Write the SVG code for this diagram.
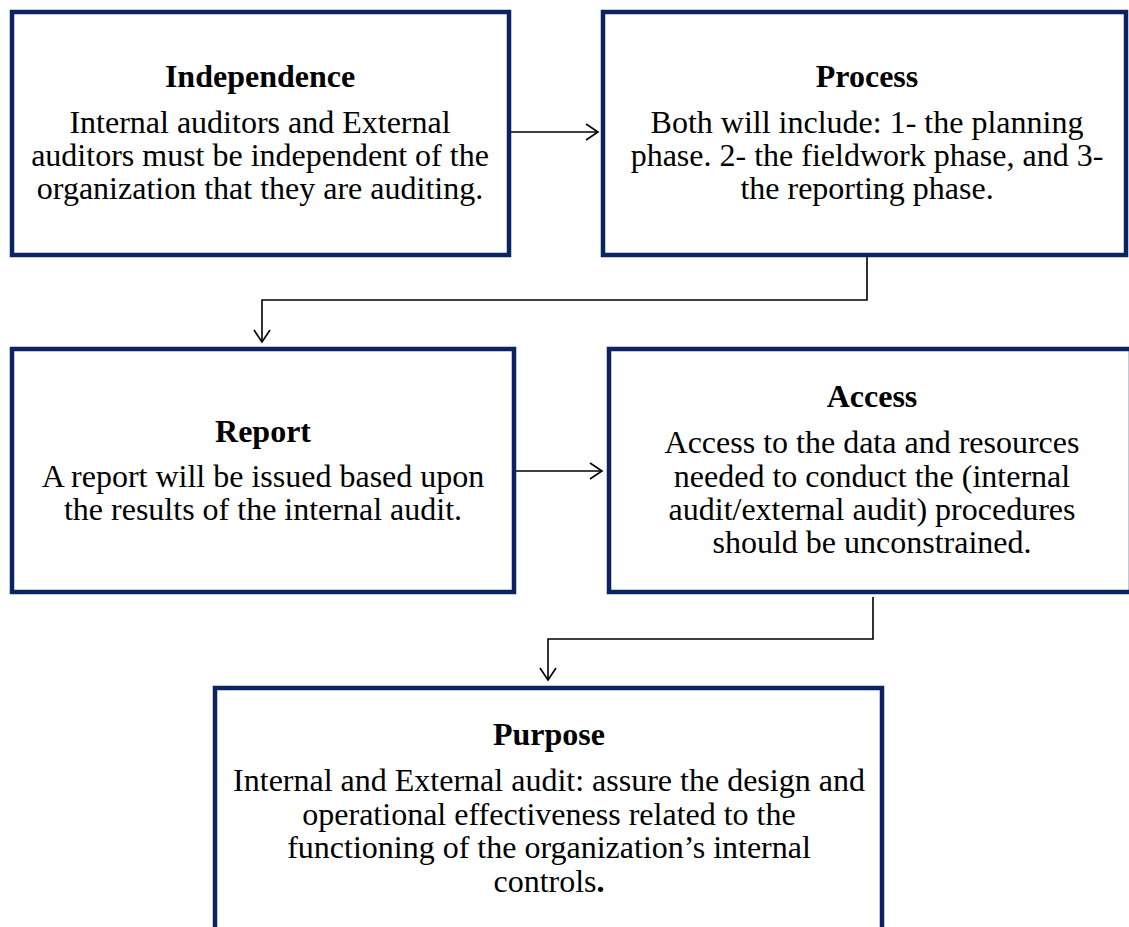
<svg xmlns="http://www.w3.org/2000/svg" width="1129" height="927" viewBox="0 0 1129 927">
  <style>
    .box { fill: #ffffff; stroke: #0b2461; stroke-width: 4.5; }
    .title { font-family: "Liberation Serif", "Times New Roman", serif; font-size: 32px; font-weight: bold; fill: #000; text-anchor: middle; }
    .body { font-family: "Liberation Serif", "Times New Roman", serif; font-size: 32px; fill: #000; text-anchor: middle; }
    .link { fill: none; stroke: #000; stroke-width: 1.6; marker-end: url(#open); }
  </style>
  <defs>
    <marker id="open" markerUnits="userSpaceOnUse" markerWidth="16" markerHeight="20" refX="13" refY="9" orient="auto">
      <path d="M1,1 L13,9 L1,17" fill="none" stroke="#000" stroke-width="1.6"/>
    </marker>
  </defs>

  <rect width="1129" height="927" fill="#ffffff"/>

  <g id="connectors">
    <path class="link" d="M511,132 L598,132"/>
    <path class="link" d="M867,257 L867,300 L262,300 L262,342"/>
    <path class="link" d="M516,471 L602,471"/>
    <path class="link" d="M873,597 L873,639 L548,639 L548,680"/>
  </g>

  <g id="independence">
    <rect class="box" x="12" y="12" width="497" height="243"/>
    <text class="title" x="260" y="87">Independence</text>
    <text class="body" x="260" y="133">Internal auditors and External</text>
    <text class="body" x="260" y="166">auditors must be independent of the</text>
    <text class="body" x="260" y="199">organization that they are auditing.</text>
  </g>

  <g id="process">
    <rect class="box" x="603" y="12" width="523" height="243"/>
    <text class="title" x="867" y="87">Process</text>
    <text class="body" x="867" y="133">Both will include: 1- the planning</text>
    <text class="body" x="867" y="166">phase. 2- the fieldwork phase, and 3-</text>
    <text class="body" x="867" y="199">the reporting phase.</text>
  </g>

  <g id="report">
    <rect class="box" x="12" y="349" width="502" height="243"/>
    <text class="title" x="263" y="442">Report</text>
    <text class="body" x="263" y="487">A report will be issued based upon</text>
    <text class="body" x="263" y="520">the results of the internal audit.</text>
  </g>

  <g id="access">
    <rect class="box" x="609" y="349" width="522" height="243"/>
    <text class="title" x="872" y="407">Access</text>
    <text class="body" x="872" y="453">Access to the data and resources</text>
    <text class="body" x="872" y="487">needed to conduct the (internal</text>
    <text class="body" x="872" y="520">audit/external audit) procedures</text>
    <text class="body" x="872" y="553">should be unconstrained.</text>
  </g>

  <g id="purpose">
    <rect class="box" x="215" y="688" width="667" height="260"/>
    <text class="title" x="549" y="745">Purpose</text>
    <text class="body" x="549" y="791">Internal and External audit: assure the design and</text>
    <text class="body" x="549" y="825">operational effectiveness related to the</text>
    <text class="body" x="549" y="858">functioning of the organization’s internal</text>
    <text class="body" x="549" y="892">controls<tspan font-weight="bold">.</tspan></text>
  </g>
</svg>
